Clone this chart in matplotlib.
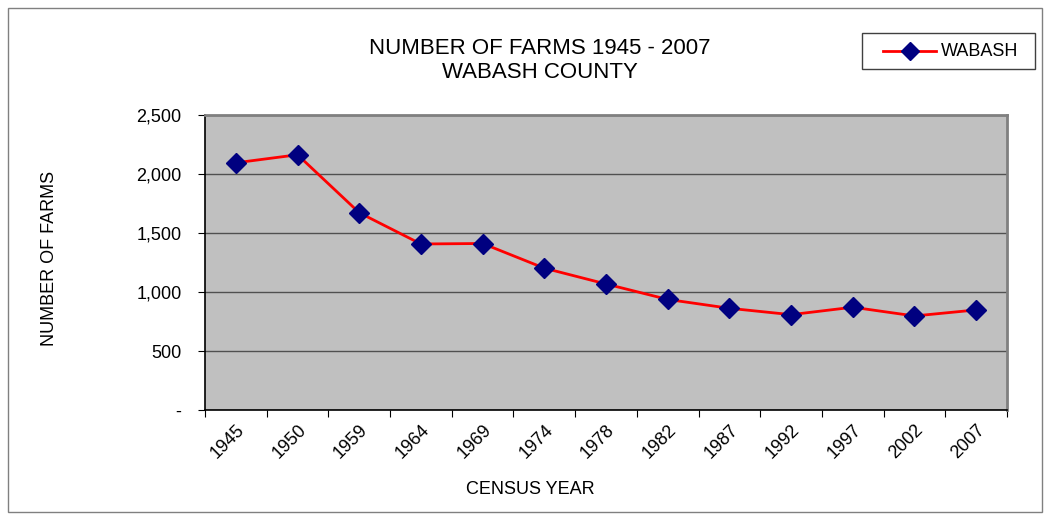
import matplotlib
matplotlib.use("Agg")
import matplotlib.pyplot as plt
from matplotlib.patches import Rectangle
from matplotlib.lines import Line2D
import numpy as np

plt.rcParams['font.family'] = ['Liberation Sans', 'DejaVu Sans']

years = ["1945", "1950", "1959", "1964", "1969", "1974", "1978",
         "1982", "1987", "1992", "1997", "2002", "2007"]
farms = [2095, 2163, 1672, 1407, 1411, 1202, 1068,
         937, 862, 808, 871, 797, 848]
y_ticks = [0, 500, 1000, 1500, 2000, 2500]
y_tick_labels = ["-", "500", "1,000", "1,500", "2,000", "2,500"]

W, H = 1050, 517


def fx(px):
    return px / W


def fy(py):
    return 1 - py / H


fig = plt.figure(figsize=(W / 100, H / 100), dpi=100)
fig.patch.set_facecolor("white")

# outer chart border
fig.add_artist(Rectangle((fx(8), fy(512)), 1034 / W, 504 / H,
                         transform=fig.transFigure, fill=False,
                         edgecolor="#808080", linewidth=1.0))

ax = fig.add_axes([fx(205), fy(410), 802 / W, 295 / H])
ax.set_facecolor("#C0C0C0")

x = np.arange(len(years)) + 0.5
ax.plot(x, farms, color="#FF0000", linewidth=2.0, marker="D",
        markersize=10.5, markerfacecolor="#000080", markeredgecolor="#000080",
        zorder=3)

ax.set_xlim(0, len(years))
ax.set_ylim(0, 2500)
ax.set_yticks(y_ticks)
ax.set_yticklabels(y_tick_labels, fontsize=13)
ax.set_xticks(np.arange(len(years) + 1), minor=False)
ax.set_xticklabels([])
ax.set_xticks(x, minor=True)
ax.set_xticklabels(years, minor=True, rotation=45, fontsize=13,
                   ha="right", va="top", rotation_mode="anchor")
ax.tick_params(axis="x", which="minor", length=0, pad=8)
ax.tick_params(axis="x", which="major", length=5, direction="out", color="black")
ax.tick_params(axis="y", length=5, direction="out", color="black", pad=12)

ax.yaxis.grid(True, color="#505050", linewidth=1.0)
ax.set_axisbelow(True)

for side in ("top", "right"):
    ax.spines[side].set_color("#808080")
    ax.spines[side].set_linewidth(2.0)
for side in ("left", "bottom"):
    ax.spines[side].set_color("black")
    ax.spines[side].set_linewidth(1.2)

fig.text(fx(540), fy(48), "NUMBER OF FARMS 1945 - 2007",
         ha="center", va="center", fontsize=16)
fig.text(fx(540), fy(72), "WABASH COUNTY",
         ha="center", va="center", fontsize=16)
fig.text(fx(50), fy(258), "NUMBER OF FARMS", rotation=90,
         ha="center", va="center", fontsize=13)
fig.text(fx(530), fy(490), "CENSUS YEAR",
         ha="center", va="center", fontsize=13)

# legend box with series key
fig.add_artist(Rectangle((fx(862), fy(69)), 173 / W, 36 / H,
                         transform=fig.transFigure, fill=True,
                         facecolor="white", edgecolor="#404040",
                         linewidth=1.0, zorder=4))
fig.add_artist(Line2D([fx(883), fx(936)], [fy(51), fy(51)],
                      transform=fig.transFigure, color="#FF0000",
                      linewidth=2.0, zorder=5))
fig.add_artist(Line2D([fx(910)], [fy(51)], transform=fig.transFigure,
                      marker="D", markersize=9, markerfacecolor="#000080",
                      markeredgecolor="#000080", linestyle="none", zorder=6))
fig.text(fx(941), fy(51), "WABASH", ha="left", va="center",
         fontsize=13, zorder=6)

fig.savefig("out.png", dpi=100, facecolor="white")
